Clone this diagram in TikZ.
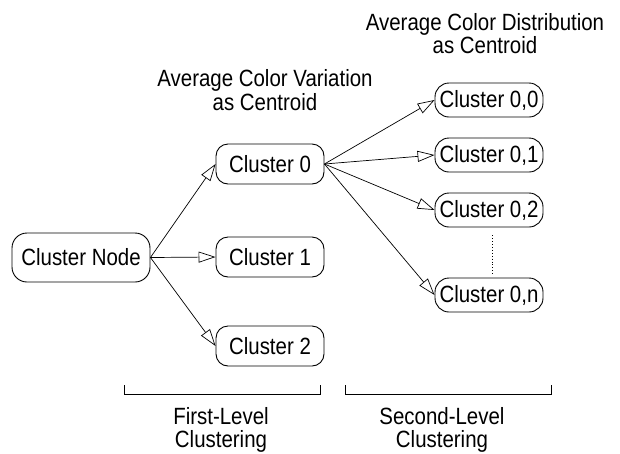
\documentclass[tikz,border=0pt]{standalone}
\usepackage{fontspec}
\setmainfont{Liberation Sans}[FakeStretch=0.87]
\usetikzlibrary{arrows.meta}
\begin{document}
\begin{tikzpicture}[x=1pt,y=-1pt,
	box/.style={draw,line width=0.9pt,rounded corners=12pt,minimum width=108pt,minimum height=40pt,inner sep=2pt,font=\fontsize{23.5}{24}\selectfont},
	subbox/.style={box,minimum height=34pt,rounded corners=14pt},
	link/.style={line width=0.7pt,-{Triangle[open,length=17pt,width=11pt]}},
	caption/.style={align=center,font=\fontsize{23.5}{23.5}\selectfont}]
	\useasboundingbox (0,0) rectangle (620,453);
	\node[box,minimum width=138pt,minimum height=49pt,rounded corners=15pt] (cn) at (81,257.5) {Cluster Node};
	\node[box] (c0) at (270,164) {Cluster 0};
	\node[box] (c1) at (270,257) {Cluster 1};
	\node[box] (c2) at (270,346) {Cluster 2};
	\node[subbox] (c00) at (489,100) {Cluster 0,0};
	\node[subbox] (c01) at (489,155) {Cluster 0,1};
	\node[subbox] (c02) at (489,210) {Cluster 0,2};
	\node[subbox] (c0n) at (489,295) {Cluster 0,n};
	\draw[link] (cn.east) -- (c0.west);
	\draw[link] (cn.east) -- (c1.west);
	\draw[link] (cn.east) -- (c2.west);
	\draw[link] (c0.east) -- (c00.west);
	\draw[link] (c0.east) -- (c01.west);
	\draw[link] (c0.east) -- (c02.west);
	\draw[link] (c0.east) -- (c0n.west);
	\draw[dotted,line width=0.9pt] ([xshift=3pt,yshift=-8pt]c02.south) -- ([xshift=3pt,yshift=3pt]c0n.north);
	\node[caption] (dist) at (485,33.5) {Average Color Distribution\\as Centroid};
	\node[caption] (var) at (265,90) {Average Color Variation\\as Centroid};
	\draw[line width=0.7pt] (124,385) -- (124,394) -- (320,394) -- (320,385);
	\draw[line width=0.7pt] (345,385) -- (345,394) -- (551,394) -- (551,385);
	\node[caption] (first) at (221,430) {First-Level\\Clustering};
	\node[caption] (second) at (442,430) {Second-Level\\Clustering};
\end{tikzpicture}
\end{document}
